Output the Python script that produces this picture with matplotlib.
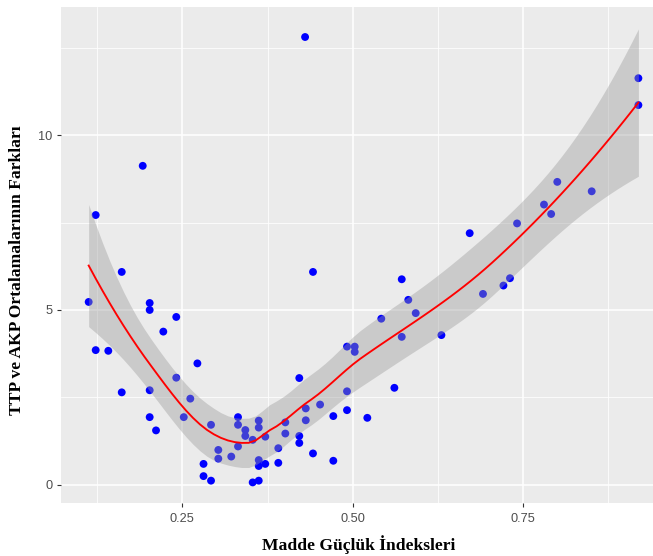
import numpy as np
import matplotlib
matplotlib.use("Agg")
import matplotlib.pyplot as plt
from matplotlib.ticker import FixedLocator

# ---- data ----
madde_guclugu = [
    0.1125, 0.1228, 0.1228, 0.1413, 0.161, 0.161, 0.1918, 0.202, 0.202, 0.202,
    0.202, 0.2113, 0.222, 0.241, 0.241, 0.252, 0.2616, 0.272, 0.281, 0.281,
    0.292, 0.292, 0.3027, 0.3027, 0.3217, 0.3316, 0.3316, 0.3316, 0.3423, 0.3423,
    0.3531, 0.3531, 0.362, 0.362, 0.362, 0.362, 0.362, 0.3716, 0.3716, 0.3907,
    0.3907, 0.401, 0.401, 0.4215, 0.4215, 0.4215, 0.431, 0.431, 0.430, 0.4416,
    0.4416, 0.452, 0.4714, 0.4714, 0.4915, 0.4915, 0.4915, 0.5028, 0.5028, 0.5213,
    0.5418, 0.561, 0.5718, 0.5718, 0.5814, 0.5923, 0.630, 0.6715, 0.691, 0.721,
    0.7306, 0.741, 0.7805, 0.791, 0.800, 0.8505, 0.919, 0.919,
]
ort_farki = [
    5.23, 7.72, 3.85, 3.83, 6.09, 2.64, 9.13, 5.20, 5.00, 2.70,
    1.93, 1.55, 4.38, 4.80, 3.06, 1.93, 2.46, 3.47, 0.59, 0.24,
    0.11, 1.71, 0.99, 0.74, 0.80, 1.93, 1.71, 1.09, 1.56, 1.39,
    1.28, 0.06, 1.83, 1.63, 0.70, 0.53, 0.11, 1.37, 0.59, 1.04,
    0.62, 1.78, 1.46, 3.05, 1.39, 1.19, 2.18, 1.84, 12.82, 6.09,
    0.89, 2.29, 1.96, 0.68, 3.95, 2.67, 2.13, 3.95, 3.80, 1.91,
    4.75, 2.77, 5.88, 4.23, 5.29, 4.91, 4.28, 7.20, 5.46, 5.70,
    5.91, 7.48, 8.02, 7.75, 8.67, 8.40, 11.64, 10.87,
]
x_ticks = [0.25, 0.50, 0.75]
x_tick_labels = ["0.25", "0.50", "0.75"]
y_ticks = [0, 5, 10]
y_tick_labels = ["0", "5", "10"]
x_title = "Madde Güçlük İndeksleri"
y_title = "TTP ve AKP Ortalamalarının Farkları"

x = np.asarray(madde_guclugu, float)
y = np.asarray(ort_farki, float)
n = len(x)
SPAN = 0.75


# ---- loess (span 0.75, degree 2, tricube), kd-tree vertex interpolation ----
def local_rows(x0):
    q = int(np.floor(n * SPAN))
    d = np.abs(x - x0)
    h = np.sort(d)[q - 1]
    u = np.clip(d / h, 0, 1)
    w = (1 - u ** 3) ** 3
    X = np.column_stack([np.ones(n), x - x0, (x - x0) ** 2])
    XtW = X.T * w
    B = np.linalg.solve(XtW @ X, XtW)
    return B[0], B[1]          # value row, slope row


xsorted = np.sort(x)
mu = 0.005 * (xsorted[-1] - xsorted[0])
fc = int(np.floor(n * SPAN * 0.2))
verts = {xsorted[0] - mu, xsorted[-1] + mu}


def split(pts, a, b):
    if len(pts) <= fc:
        return
    m = (len(pts) + 1) // 2
    s = 0.5 * (pts[m - 1] + pts[m])
    if s <= a or s >= b:
        return
    verts.add(s)
    split(pts[pts <= s], a, s)
    split(pts[pts > s], s, b)


split(xsorted, xsorted[0] - mu, xsorted[-1] + mu)
V = np.array(sorted(verts))
VR = [local_rows(v) for v in V]


def interp_row(x0):
    k = np.clip(np.searchsorted(V, x0) - 1, 0, len(V) - 2)
    v0, v1 = V[k], V[k + 1]
    h = v1 - v0
    t = (x0 - v0) / h
    h00 = 2 * t ** 3 - 3 * t ** 2 + 1
    h10 = t ** 3 - 2 * t ** 2 + t
    h01 = -2 * t ** 3 + 3 * t ** 2
    h11 = t ** 3 - t ** 2
    return (h00 * VR[k][0] + h10 * h * VR[k][1]
            + h01 * VR[k + 1][0] + h11 * h * VR[k + 1][1])


L = np.array([interp_row(xi) for xi in x])
res = y - L @ y
IL = np.eye(n) - L
M = IL.T @ IL
delta1 = np.trace(M)
delta2 = np.trace(M @ M)
sigma = np.sqrt(np.sum(res ** 2) / delta1)
df = delta1 ** 2 / delta2
z = 1.959964
tq = z + (z ** 3 + z) / (4 * df)

xs = np.linspace(x.min(), x.max(), 80)
Ls = np.array([interp_row(xi) for xi in xs])
fit = Ls @ y
se = sigma * np.sqrt(np.sum(Ls ** 2, axis=1))
lo = fit - tq * se
hi = fit + tq * se

# ---- figure ----
W, H = 653, 556
fig = plt.figure(figsize=(W / 100, H / 100), dpi=100)
fig.patch.set_facecolor("white")
left, right, top, bottom = 61, 666, 7, 503
ax = fig.add_axes([left / W, 1 - bottom / H, (right - left) / W, (bottom - top) / H])
ax.set_facecolor("#EBEBEB")
for s in ax.spines.values():
    s.set_visible(False)

ax.set_xlim(0.0719, 0.9595)
ax.set_ylim(-0.53, 13.68)
ax.xaxis.set_major_locator(FixedLocator(x_ticks))
ax.yaxis.set_major_locator(FixedLocator(y_ticks))
ax.xaxis.set_minor_locator(FixedLocator([0.125, 0.375, 0.625, 0.875]))
ax.yaxis.set_minor_locator(FixedLocator([2.5, 7.5, 12.5]))
ax.set_xticklabels(x_tick_labels)
ax.set_yticklabels(y_tick_labels)
ax.grid(which="major", color="white", linewidth=1.1)
ax.grid(which="minor", color="white", linewidth=0.55)
ax.set_axisbelow(True)
ax.tick_params(which="major", length=3, width=0.8, color="#333333",
               labelcolor="#4D4D4D", labelsize=9.2)
ax.tick_params(axis="x", which="major", pad=4.5)
ax.tick_params(axis="y", which="major", pad=3)
ax.tick_params(which="minor", length=0)
for lab in ax.get_xticklabels() + ax.get_yticklabels():
    lab.set_family(["Liberation Sans", "DejaVu Sans"])

ax.scatter(x, y, s=32, color="#0000FF", edgecolors="none", zorder=2)
ax.fill_between(xs, lo, hi, color="#999999", alpha=0.4, linewidth=0, zorder=3)
ax.plot(xs, fit, color="#FF0000", linewidth=1.35, zorder=4)

fig.text(359 / W, 1 - 545 / H, x_title, ha="center", va="center",
         fontsize=12.6, fontweight="bold", family=["Liberation Serif", "DejaVu Serif"])
fig.text(17 / W, 1 - 270 / H, y_title, ha="center", va="center", rotation=90,
         fontsize=12.6, fontweight="bold", family=["Liberation Serif", "DejaVu Serif"])

fig.savefig("out.png", dpi=100)
